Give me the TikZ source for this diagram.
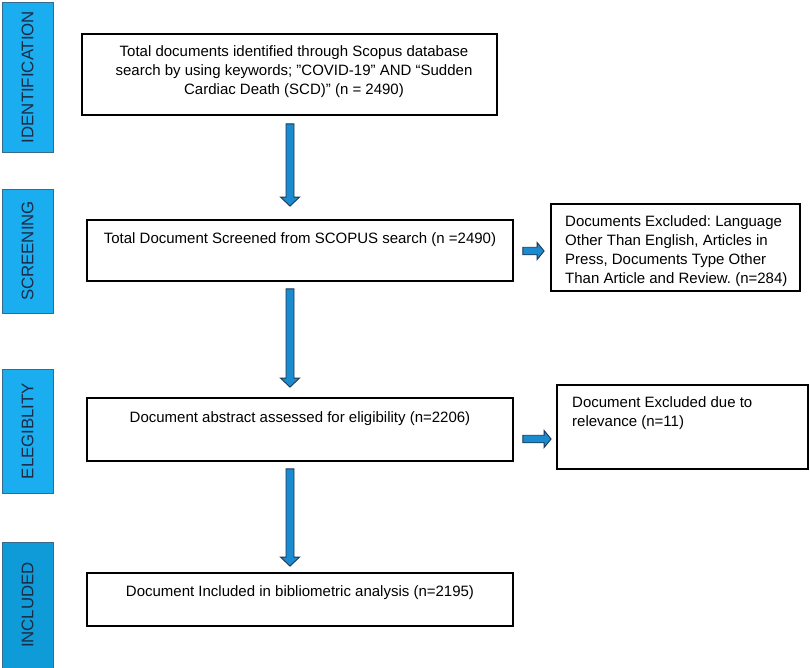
\documentclass[tikz,border=0pt]{standalone}
\usepackage{fontspec}
\setmainfont{Liberation Sans}
\usetikzlibrary{calc}
\frenchspacing
\definecolor{barblue}{HTML}{1AADEF}
\definecolor{bardark}{HTML}{0E9BD8}
\definecolor{barline}{HTML}{3A6A8A}
\definecolor{arrfill}{HTML}{1B8BCF}
\definecolor{arrline}{HTML}{1E3550}
\definecolor{labtext}{HTML}{1C2B45}
\newcommand\vblock[2]{\draw[blockarrow] ($(#1)+(-4,0)$) -- ($(#2)+(-4,-9)$) -- ($(#2)+(-9.5,-9)$) -- (#2) -- ($(#2)+(9.5,-9)$) -- ($(#2)+(4,-9)$) -- ($(#1)+(4,0)$) -- cycle;}
\newcommand\hblock[2]{\draw[blockarrow] ($(#1)+(0,-3.75)$) -- ($(#2)+(-7,-3.75)$) -- ($(#2)+(-7,-8.5)$) -- (#2) -- ($(#2)+(-7,8.5)$) -- ($(#2)+(-7,3.75)$) -- ($(#1)+(0,3.75)$) -- cycle;}
\begin{document}
\begin{tikzpicture}[x=1pt,y=-1pt,
  stage/.style={draw=barline,line width=1pt,fill=barblue,minimum width=51pt,inner sep=0pt},
  stagetext/.style={rotate=90,text=labtext,inner sep=0pt,font=\fontsize{16.8}{18}\selectfont},
  box/.style={draw=black,line width=1.8pt,inner sep=0pt},
  boxtext/.style={font=\fontsize{15}{19}\selectfont,align=center,inner sep=0pt,anchor=north},
  sidetext/.style={font=\fontsize{15}{19}\selectfont,align=left,inner sep=0pt,anchor=north west},
  blockarrow/.style={draw=arrline,fill=arrfill,line width=0.9pt,line join=miter}
]
\useasboundingbox[fill=white] (0,0) rectangle (810,667);

% stage bars
\node[stage,minimum height=150pt] (s1) at (27.5,77) {};
\node[stagetext] (l1) at (s1) {IDENTIFICATION};
\node[stage,minimum height=124pt] (s2) at (27.5,251) {};
\node[stagetext] (l2) at (s2) {SCREENING};
\node[stage,minimum height=124pt] (s3) at (27.5,431) {};
\node[stagetext] (l3) at (s3) {ELEGIBLITY};
\node[stage,fill=bardark,minimum height=128pt] (s4) at (27.5,606) {};
\node[stagetext] (l4) at (27.5,605) {INCLUDED};

% main boxes
\node[box,minimum width=415pt,minimum height=81pt] (b1) at (289.5,74.5) {};
\node[boxtext] (t1) at (294,45) {Total documents identified through Scopus database\\search by using keywords; \symbol{34}COVID-19” AND “Sudden\\Cardiac Death (SCD)” (n = 2490)};
\node[box,minimum width=426pt,minimum height=61pt] (b2) at (300,250.5) {};
\node[boxtext] (t2) at (300,232) {Total Document Screened from SCOPUS search (n =2490)};
\node[box,minimum width=426pt,minimum height=63pt] (b3) at (300,429.5) {};
\node[boxtext] (t3) at (300,411) {Document abstract assessed for eligibility (n=2206)};
\node[box,minimum width=426pt,minimum height=53pt] (b4) at (300,599.5) {};
\node[boxtext] (t4) at (300,585) {Document Included in bibliometric analysis (n=2195)};

% exclusion boxes
\node[box,minimum width=249pt,minimum height=87pt] (e1) at (675.5,247.5) {};
\node[sidetext] (u1) at (565,215) {Documents Excluded: Language\\Other Than English, Articles in\\Press, Documents Type Other\\Than Article and Review. (n=284)};
\node[box,minimum width=251pt,minimum height=84pt] (e2) at (682.5,427) {};
\node[sidetext] (u2) at (572,396) {Document Excluded due to\\relevance (n=11)};

% arrow end points
\coordinate (a1s) at ($(b1.south)+(0.5,8)$);
\coordinate (a1e) at ($(b2.north)+(-10,-13)$);
\coordinate (a2s) at ($(b2.south)+(-10,7)$);
\coordinate (a2e) at ($(b3.north)+(-10,-10)$);
\coordinate (a3s) at ($(b3.south)+(-10,7)$);
\coordinate (a3e) at ($(b4.north)+(-10,-6)$);
\coordinate (h1s) at ($(b2.east)+(9,0.5)$);
\coordinate (h1e) at ($(e1.west)+(-6,3.5)$);
\coordinate (h2s) at ($(b3.east)+(9,9.5)$);
\coordinate (h2e) at ($(e2.west)+(-5,12)$);

\vblock{a1s}{a1e}
\vblock{a2s}{a2e}
\vblock{a3s}{a3e}
\hblock{h1s}{h1e}
\hblock{h2s}{h2e}
\end{tikzpicture}
\end{document}
